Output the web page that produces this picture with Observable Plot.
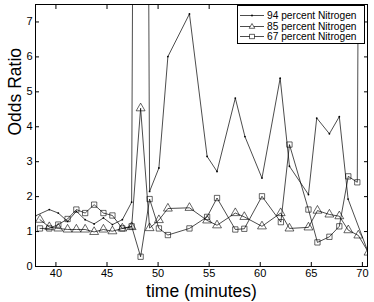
<!DOCTYPE html>
<html>
<head>
<meta charset="utf-8">
<script src="https://cdn.jsdelivr.net/npm/d3@7"></script>
<script src="https://cdn.jsdelivr.net/npm/@observablehq/plot@0.6"></script>
<style>
  html, body { margin: 0; padding: 0; background: #fff; }
  #wrap { position: relative; width: 374px; height: 302px; font-family: "Liberation Sans", Arial, sans-serif; }
  #legend { position: absolute; left: 237px; top: 5px; width: 128px; height: 39px; border: 1px solid #000; background: #fff; box-sizing: border-box; font-size: 10.2px; }
  #legend .row { position: absolute; left: 0; height: 11px; line-height: 11px; white-space: nowrap; }
  #legend svg { position: absolute; left: 2px; top: 1px; }
  #legend span { position: absolute; left: 29px; top: 0; }
</style>
</head>
<body>
<div id="wrap"><div id="legend"></div></div>
<script>
// ---- data ----
const seriesNames = ["94 percent Nitrogen", "85 percent Nitrogen", "67 percent Nitrogen"];

const t94 = [38.0, 39.35, 40.23, 41.14, 42.0, 42.86, 43.74, 44.65, 45.53, 46.5, 47.41, 48.29, 49.17, 50.08, 50.96, 53.07, 54.8, 55.77, 57.56, 58.5, 60.17, 61.95, 62.86, 64.72, 65.53, 66.77, 67.74, 68.6, 70.6];
const v94 = [1.45, 1.63, 1.53, 1.29, 1.58, 1.34, 1.22, 1.39, 1.2, 1.34, 1.84, 60, 2.15, 2.82, 6.01, 7.23, 3.15, 2.72, 4.82, 3.72, 2.53, 5.39, 2.87, 2.06, 4.25, 3.8, 4.29, 1.93, 0.38];

const t85 = [38.44, 39.35, 40.23, 41.14, 42.0, 42.86, 43.74, 44.65, 45.53, 46.5, 47.41, 48.29, 49.17, 50.08, 50.96, 53.07, 54.8, 55.77, 57.56, 58.44, 60.17, 62.0, 62.86, 64.72, 65.6, 66.77, 67.74, 68.62, 69.6, 70.6];
const v85 = [1.34, 1.13, 1.09, 1.06, 1.06, 1.06, 0.99, 1.06, 1.01, 1.09, 1.13, 4.53, 1.10, 1.33, 1.66, 1.68, 1.32, 1.18, 1.53, 1.42, 1.15, 1.53, 1.09, 1.12, 1.6, 1.49, 1.44, 1.04, 0.89, 0.4];

const t67 = [38.44, 39.35, 40.23, 41.14, 42.0, 42.86, 43.74, 44.65, 45.53, 46.5, 47.41, 48.29, 49.17, 50.08, 50.96, 53.07, 54.8, 55.77, 57.56, 58.44, 60.17, 62.02, 62.86, 64.72, 65.6, 66.77, 67.74, 68.62, 69.5, 70.4];
const v67 = [1.09, 1.09, 1.2, 1.36, 1.63, 1.53, 1.77, 1.53, 1.46, 1.09, 1.15, 0.28, 1.93, 1.09, 0.9, 1.09, 1.42, 1.96, 1.06, 1.08, 2.01, 1.27, 3.49, 1.63, 0.69, 0.85, 1.15, 2.58, 2.41, 60];

const xTicks = [40, 45, 50, 55, 60, 65, 70];
const yTicks = [0, 1, 2, 3, 4, 5, 6, 7];
const xLabel = "time (minutes)";
const yLabel = "Odds Ratio";

// ---- build tables ----
const d94 = t94.map((t, i) => ({t, v: v94[i]}));
const d85 = t85.map((t, i) => ({t, v: v85[i]}));
const d67 = t67.map((t, i) => ({t, v: v67[i]}));

const lw = 0.7;
const chart = Plot.plot({
  width: 374,
  height: 302,
  marginLeft: 35,
  marginRight: 7,
  marginTop: 4,
  marginBottom: 36,
  style: {fontFamily: "Liberation Sans, Arial, sans-serif", fontSize: "11px", background: "#fff", color: "#000"},
  x: {domain: [38, 70.5], ticks: xTicks},
  y: {domain: [0, 7.5], ticks: yTicks},
  marks: [
    Plot.line(d94, {x: "t", y: "v", stroke: "#000", strokeWidth: lw, clip: true}),
    Plot.dot(d94, {x: "t", y: "v", r: 0.9, fill: "#000", clip: true}),
    Plot.line(d85, {x: "t", y: "v", stroke: "#000", strokeWidth: lw, clip: true}),
    Plot.dot(d85, {x: "t", y: "v", symbol: "triangle", r: 3.3, fill: "none", stroke: "#000", strokeWidth: 0.6, clip: true}),
    Plot.line(d67, {x: "t", y: "v", stroke: "#000", strokeWidth: lw, clip: true}),
    Plot.dot(d67, {x: "t", y: "v", symbol: "square", r: 3.0, fill: "none", stroke: "#000", strokeWidth: 0.6, clip: true}),
    Plot.axisX(xTicks, {anchor: "bottom", tickSize: -4, tickPadding: 7, label: null, fontSize: 11}),
    Plot.axisX(xTicks, {anchor: "top", tickSize: -4, tickFormat: () => "", label: null}),
    Plot.axisY(yTicks, {anchor: "left", tickSize: -4, tickPadding: 7, label: null, fontSize: 11}),
    Plot.axisY(yTicks, {anchor: "right", tickSize: -4, tickFormat: () => "", label: null}),
    Plot.frame({stroke: "#000", strokeWidth: 1}),
    Plot.text([xLabel], {frameAnchor: "bottom", dy: 25, fontSize: 17.5, lineAnchor: "middle"}),
    Plot.text([yLabel], {frameAnchor: "left", dx: -20, rotate: -90, fontSize: 17.5, lineAnchor: "middle"})
  ]
});
document.getElementById("wrap").prepend(chart);

// ---- legend (inside plot, top right) ----
const legend = document.getElementById("legend");
const symbols = ["dot", "triangle", "square"];
seriesNames.forEach((name, i) => {
  const row = document.createElement("div");
  row.className = "row";
  row.style.top = (4 + i * 10.5) + "px";
  let marker = "";
  if (symbols[i] === "dot") marker = '<circle cx="12" cy="4.5" r="0.9" fill="#000"/>';
  if (symbols[i] === "triangle") marker = '<path d="M12,1.5 L14.8,6.3 L9.2,6.3 Z" fill="#fff" stroke="#000" stroke-width="0.6"/>';
  if (symbols[i] === "square") marker = '<rect x="9.7" y="2.2" width="4.6" height="4.6" fill="#fff" stroke="#000" stroke-width="0.6"/>';
  row.innerHTML = '<svg width="24" height="9"><line x1="0" y1="4.5" x2="24" y2="4.5" stroke="#000" stroke-width="0.7"/>' + marker + '</svg><span>' + name + '</span>';
  legend.appendChild(row);
});
</script>
</body>
</html>
